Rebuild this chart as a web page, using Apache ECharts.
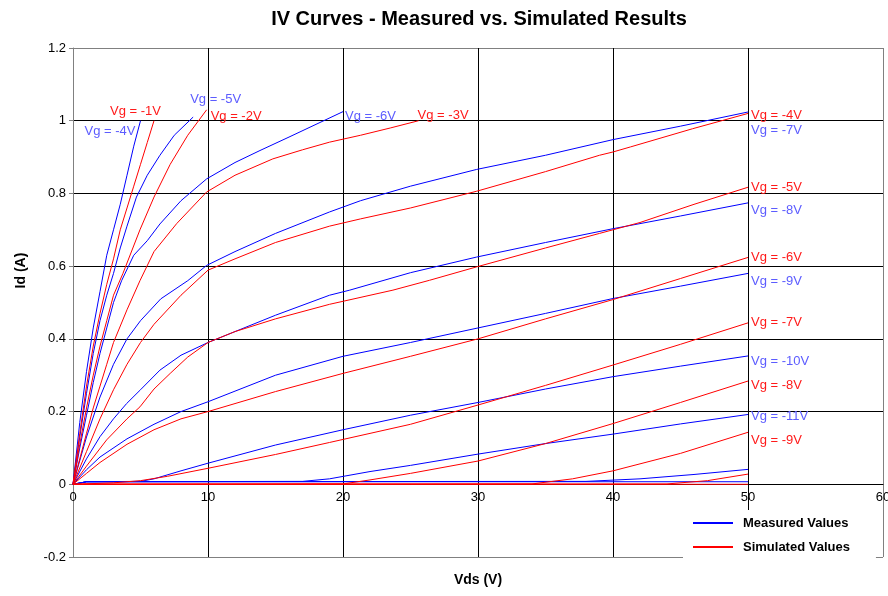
<!DOCTYPE html>
<html>
<head>
<meta charset="utf-8">
<script src="https://cdn.jsdelivr.net/npm/echarts@6/dist/echarts.min.js"></script>
<style>
  html, body { margin: 0; padding: 0; background: #fff; }
  #chart { width: 888px; height: 596px; }
</style>
</head>
<body>
<div id="chart"></div>
<script>
// ---- Axis ticks ----
const xTicks = [0, 10, 20, 30, 40, 50, 60];
const yTicks = [-0.2, 0, 0.2, 0.4, 0.6, 0.8, 1.0, 1.2];

// ---- Measured drain current traces, [Vds (V), Id (A)] ----
const meas_vg4 = [[0,0],[0.5,0.17],[1,0.31],[1.5,0.43],[2,0.53],[2.5,0.63],[3,0.7],[3.5,0.77],[4,0.85],[4.5,0.93],[5,1.0]];
const meas_vg5 = [[0,0],[0.5,0.13],[1,0.25],[1.5,0.36],[2,0.45],[2.5,0.52],[3,0.58],[3.5,0.65],[4,0.71],[4.7,0.79],[5.5,0.85],[6.44,0.905],[7.5,0.96],[8.9,1.01]];
const meas_vg6 = [[0,0],[0.5,0.1],[1,0.19],[1.5,0.28],[2,0.36],[2.5,0.43],[3,0.5],[3.6,0.56],[4.5,0.63],[5.5,0.67],[6.44,0.716],[8,0.78],[9.9,0.84],[12,0.885],[13.85,0.918],[16,0.955],[18,0.99],[20,1.025]];
const meas_vg7 = [[0,0],[1,0.13],[2,0.24],[3,0.33],[4,0.4],[5,0.45],[6.5,0.51],[8.5,0.56],[9.9,0.602],[12,0.64],[15,0.69],[19,0.749],[21.3,0.78],[25,0.82],[29.9,0.866],[35,0.905],[40,0.948],[45,0.985],[50,1.024]];
const meas_vg8 = [[0,0],[1,0.07],[2,0.131],[3,0.18],[3.97,0.222],[5,0.26],[6.44,0.314],[8,0.355],[10,0.39],[12,0.42],[15,0.465],[19,0.52],[20.5,0.534],[25,0.582],[29.9,0.625],[35,0.665],[40,0.703],[45,0.738],[50,0.774]];
const meas_vg9 = [[0,0],[1,0.04],[2,0.075],[4,0.125],[6,0.165],[8,0.2],[10,0.227],[15,0.3],[20,0.352],[25,0.39],[30,0.43],[35,0.47],[40,0.511],[45,0.545],[50,0.58]];
const meas_vg10 = [[0,0],[1,0.007],[5,0.008],[6,0.015],[8,0.037],[10,0.058],[15,0.108],[20,0.15],[25,0.19],[30,0.225],[35,0.262],[40,0.296],[45,0.325],[50,0.353]];
const meas_vg11 = [[0,0],[1,0.007],[17,0.008],[19,0.015],[22,0.035],[25,0.052],[30,0.083],[35,0.112],[40,0.138],[45,0.166],[50,0.192]];
const meas_vg12 = [[0,0],[1,0.007],[38,0.008],[42,0.015],[46,0.027],[50,0.041]];
const meas_vg13 = [[0,0],[1,0.007],[50,0.007]];

// ---- Simulated drain current traces, [Vds (V), Id (A)] ----
const sim_vg1 = [[0,0],[0.5,0.14],[1,0.27],[1.5,0.38],[2,0.47],[2.5,0.55],[3,0.62],[3.5,0.7],[4,0.76],[4.5,0.82],[5,0.88],[5.5,0.94],[6,1.0]];
const sim_vg2 = [[0,0],[0.5,0.11],[1,0.21],[1.5,0.3],[2,0.38],[2.5,0.45],[3,0.52],[3.7,0.58],[4.96,0.7],[6,0.79],[7.2,0.88],[8.5,0.96],[9.9,1.03]];
const sim_vg3 = [[0,0],[0.5,0.07],[1,0.14],[1.5,0.21],[2,0.27],[2.5,0.33],[3,0.39],[4,0.48],[4.96,0.56],[6,0.64],[7.68,0.717],[9.9,0.804],[12,0.85],[14.8,0.895],[17,0.92],[19,0.941],[21.3,0.96],[23.5,0.98],[25.6,1.0]];
const sim_vg4 = [[0,0],[1,0.09],[2,0.18],[3,0.26],[4,0.33],[5,0.39],[6,0.44],[8,0.52],[10,0.589],[12,0.62],[15,0.665],[19,0.71],[21.3,0.73],[25,0.76],[29.9,0.806],[35,0.86],[39,0.905],[40,0.914],[41.3,0.928],[45.9,0.978],[50,1.02]];
const sim_vg5 = [[0,0],[1,0.05],[2.49,0.122],[4,0.18],[4.96,0.213],[6,0.262],[7.2,0.305],[8.5,0.35],[10,0.39],[12,0.42],[15,0.455],[19,0.495],[23.7,0.534],[26.4,0.561],[29.9,0.598],[35,0.65],[39,0.69],[42,0.72],[46,0.77],[50,0.817]];
const sim_vg6 = [[0,0],[1,0.03],[2,0.06],[4,0.11],[6,0.15],[8,0.18],[10,0.2],[15,0.255],[20,0.305],[25,0.352],[30,0.4],[35,0.455],[40,0.508],[45,0.566],[50,0.624]];
const sim_vg7 = [[0,0],[3,0.004],[5,0.01],[7,0.022],[10,0.044],[15,0.082],[19,0.115],[25,0.165],[30,0.218],[35,0.272],[40,0.328],[45,0.385],[50,0.444]];
const sim_vg8 = [[0,0],[20,0.001],[22,0.012],[25,0.03],[30,0.064],[35,0.112],[40,0.167],[45,0.225],[50,0.284]];
const sim_vg9 = [[0,0],[34,0.001],[37,0.015],[40,0.037],[45,0.085],[50,0.143]];
const sim_vg10 = [[0,0],[44,0.001],[47,0.01],[50,0.028]];
const sim_vg11 = [[0,0],[50,0]];

// ---- Gate voltages of each trace ----
const measuredVg = [-4, -5, -6, -7, -8, -9, -10, -11, -12, -13];
const simulatedVg = [-1, -2, -3, -4, -5, -6, -7, -8, -9, -10, -11];
const measuredTraces = [meas_vg4, meas_vg5, meas_vg6, meas_vg7, meas_vg8, meas_vg9, meas_vg10, meas_vg11, meas_vg12, meas_vg13];
const simulatedTraces = [sim_vg1, sim_vg2, sim_vg3, sim_vg4, sim_vg5, sim_vg6, sim_vg7, sim_vg8, sim_vg9, sim_vg10, sim_vg11];

// Gate voltages whose traces carry an end label
const labelledMeasured = [-4, -5, -6, -7, -8, -9, -10, -11];
const labelledSimulated = [-1, -2, -3, -4, -5, -6, -7, -8, -9];

// ---- Presentation ----
const FONT = 'Liberation Sans, Arial, sans-serif';
const BLUE = '#0000ff', RED = '#ff0000';
const BLUE_TEXT = '#5c5cff', RED_TEXT = '#ff1a1a';

// end label placement relative to each trace's last point: [dx, dy, align]
const measLabelPos = {
  '-4': [-5, 11, 'right'], '-5': [-3, -18, 'left'], '-6': [2, 5, 'left'],
  '-7': [3, 18, 'left'], '-8': [3, 8, 'left'], '-9': [3, 8, 'left'],
  '-10': [3, 5, 'left'], '-11': [3, 2, 'left']
};
const simLabelPos = {
  '-1': [-44, -9, 'left'], '-2': [4, 7, 'left'], '-3': [-1, -5, 'left'],
  '-4': [3, 2, 'left'], '-5': [3, 0, 'left'], '-6': [3, 0, 'left'],
  '-7': [3, 0, 'left'], '-8': [3, 4, 'left'], '-9': [3, 8, 'left']
};

function makeSeries(name, vg, data, color, textColor, labelled, pos) {
  const s = {
    name: name,
    type: 'line',
    data: data,
    symbol: 'none',
    showSymbol: false,
    smooth: false,
    silent: true,
    lineStyle: { color: color, width: 1 },
    itemStyle: { color: color },
    emphasis: { disabled: true }
  };
  if (labelled.indexOf(vg) >= 0) {
    const p = pos[String(vg)];
    s.endLabel = {
      show: true,
      formatter: 'Vg = ' + vg + 'V',
      color: textColor,
      fontFamily: FONT,
      fontSize: 13,
      distance: 0,
      offset: [p[0], p[1]],
      align: p[2],
      verticalAlign: 'middle'
    };
  }
  return s;
}

const series = [];
measuredTraces.forEach((d, i) => series.push(
  makeSeries('Measured Values', measuredVg[i], d, BLUE, BLUE_TEXT, labelledMeasured, measLabelPos)));
simulatedTraces.forEach((d, i) => series.push(
  makeSeries('Simulated Values', simulatedVg[i], d, RED, RED_TEXT, labelledSimulated, simLabelPos)));

// plot area in pixels; the Vds axis runs along Id = 0, so it is lifted
// from the bottom edge by the height of the -0.2..0 band
const GRID = { left: 73, top: 48, right: 5, bottom: 39 };
const plotH = 596 - GRID.top - GRID.bottom;
const zeroLift = plotH * (0 - yTicks[0]) / (yTicks[yTicks.length - 1] - yTicks[0]);

const chart = echarts.init(document.getElementById('chart'), null, { renderer: 'canvas' });
chart.setOption({
  animation: false,
  backgroundColor: '#ffffff',
  textStyle: { fontFamily: FONT },
  title: {
    text: 'IV Curves - Measured vs. Simulated Results',
    left: 474, top: 4, textAlign: 'center',
    textStyle: { fontFamily: FONT, fontSize: 20, fontWeight: 'bold', color: '#000' }
  },
  grid: Object.assign({ outerBoundsMode: 'none', containLabel: false }, GRID),
  legend: {
    data: ['Measured Values', 'Simulated Values'],
    orient: 'vertical',
    left: 683, top: 510,
    padding: [6, 26, 5, 10],
    icon: 'rect',
    itemWidth: 40, itemHeight: 2, itemGap: 10,
    backgroundColor: '#ffffff',
    selectedMode: false,
    textStyle: { fontFamily: FONT, fontSize: 13, fontWeight: 'bold', color: '#000', padding: [0, 0, 0, 5], lineHeight: 14 }
  },
  xAxis: {
    type: 'value',
    min: xTicks[0], max: xTicks[xTicks.length - 1], interval: 10,
    offset: -zeroLift,
    name: 'Vds (V)', nameLocation: 'middle', nameGap: 89,
    nameTextStyle: { fontFamily: FONT, fontSize: 14, fontWeight: 'bold', color: '#000' },
    axisLine: { show: true, onZero: false, lineStyle: { color: '#000', width: 1 } },
    axisTick: { show: false },
    axisLabel: { color: '#000', fontSize: 13, fontFamily: FONT, margin: 7 },
    splitLine: { show: true, lineStyle: { color: ['#808080', '#000', '#000', '#000', '#000', '#000', '#808080'], width: 1 } }
  },
  yAxis: {
    type: 'value',
    min: yTicks[0], max: yTicks[yTicks.length - 1], interval: 0.2,
    name: 'Id (A)', nameLocation: 'middle', nameGap: 45, nameRotate: 90,
    nameTextStyle: { fontFamily: FONT, fontSize: 14, fontWeight: 'bold', color: '#000', padding: [0, 0, 0, 64] },
    axisLine: { show: true, onZero: false, lineStyle: { color: '#808080', width: 1 } },
    axisTick: { show: true, length: 4, lineStyle: { color: '#808080' } },
    axisLabel: { color: '#000', fontSize: 13, fontFamily: FONT, margin: 7,
      formatter: v => String(Math.round(v * 10) / 10) },
    splitLine: { show: true, lineStyle: { color: ['#808080', '#000', '#000', '#000', '#000', '#000', '#000', '#808080'], width: 1 } }
  },
  series: series
});
</script>
</body>
</html>
